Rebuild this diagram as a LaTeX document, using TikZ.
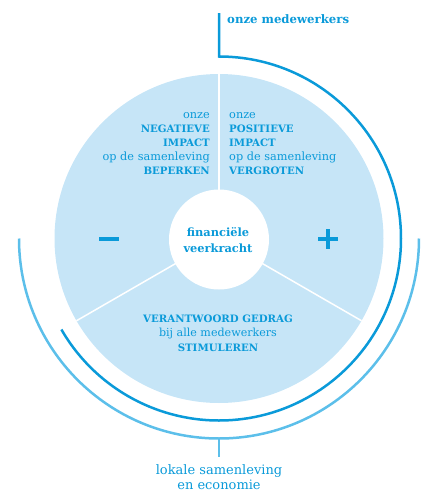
\documentclass[tikz,border=0pt]{standalone}
\usepackage{fontspec}
\setmainfont{DejaVu Serif}
\definecolor{dblue}{HTML}{0A9AD9}
\definecolor{lblue}{HTML}{C6E5F7}
\definecolor{mblue}{HTML}{5CBFEA}
\newcommand\capsb[1]{{\bfseries\fontsize{10.2}{14}\selectfont #1}}
\tikzset{
  txt/.style={text=dblue, inner sep=0pt, font=\fontsize{11.3}{14}\selectfont},
  divider/.style={white, line width=1.5pt},
  ring/.style={line width=2.5pt},
}
\begin{document}
\begin{tikzpicture}[x=1pt,y=-1pt]
\useasboundingbox (0,0) rectangle (422,491);
\coordinate (c) at (219,238.5);
\fill[lblue] (c) circle (164.5);
\coordinate (top) at (219,74);
\coordinate (ll) at (76.5,320.75);
\coordinate (lr) at (361.5,320.75);
\draw[divider] (c) -- (top);
\draw[divider] (c) -- (ll);
\draw[divider] (c) -- (lr);
\node[circle, fill=white, minimum size=100pt, inner sep=0pt] (core) at (219,239.5) {};
% rings
\coordinate (mtop) at (219,13);
\coordinate (mcorner) at (219,56.5);
\draw[ring, dblue] (mtop) -- (mcorner) arc[start angle=-90, end angle=150, radius=182];
\coordinate (lstart) at (19,238.5);
\coordinate (lbot) at (219,438.5);
\coordinate (lend) at (219,457);
\draw[ring, mblue] (lstart) arc[start angle=180, end angle=0, radius=200];
\draw[ring, mblue] (lbot) -- (lend);
% signs
\fill[dblue] (99,237) rectangle (119,241);
\fill[dblue] (317.5,237) rectangle (337.5,241);
\fill[dblue] (325.5,229) rectangle (329.5,249);
% texts
\node[txt, align=right, anchor=base east] (neg) at (210,174.5)
  {onze\\ \capsb{NEGATIEVE}\\ \capsb{IMPACT}\\ op de samenleving\\ \capsb{BEPERKEN}};
\node[txt, align=left, anchor=base west] (pos) at (229,174.5)
  {onze\\ \capsb{POSITIEVE}\\ \capsb{IMPACT}\\ op de samenleving\\ \capsb{VERGROTEN}};
\node[txt, align=center, anchor=base, font=\bfseries\fontsize{11.4}{15.5}\selectfont] (fin) at (218,252)
  {financiële\\ veerkracht};
\node[txt, align=center, anchor=base, font=\fontsize{11.1}{14.5}\selectfont] (ver) at (218,351)
  {\capsb{VERANTWOORD GEDRAG}\\ bij alle medewerkers\\ \capsb{STIMULEREN}};
\node[txt, anchor=base west, font=\bfseries\fontsize{11.7}{14}\selectfont] (med) at (227,23) {onze medewerkers};
\node[txt, align=center, anchor=base, font=\fontsize{13}{15}\selectfont] (lok) at (219,489)
  {lokale samenleving\\ en economie};
\end{tikzpicture}
\end{document}
